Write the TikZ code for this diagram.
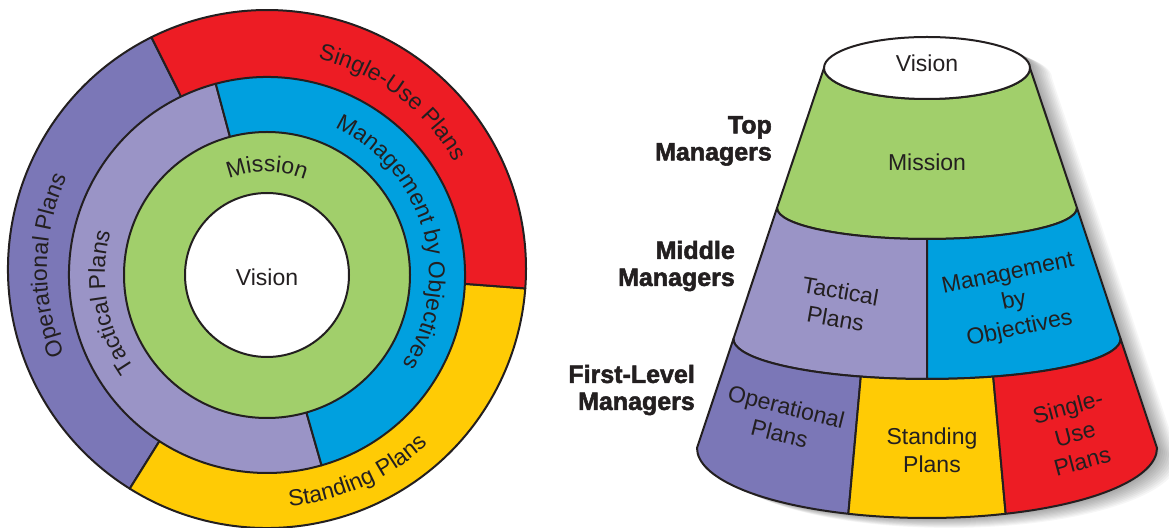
\documentclass[tikz,border=0pt]{standalone}
\usepackage{fontspec}
\setmainfont{Liberation Sans}
\newfontfamily\heavyfont[FakeBold=2]{Liberation Sans Bold}
\usepackage{tikz}
\usetikzlibrary{calc,decorations.text}

\definecolor{ink}{HTML}{231F20}
\definecolor{operc}{HTML}{7B77B7}
\definecolor{tactc}{HTML}{9A94C6}
\definecolor{missc}{HTML}{A1CF6B}
\definecolor{mboc}{HTML}{00A0DF}
\definecolor{standc}{HTML}{FFCB05}
\definecolor{singlec}{HTML}{ED1C24}

\newcommand\ringfont{\fontsize{23}{28}\selectfont}
\newcommand\levelfont{\fontsize{25}{27}\selectfont\heavyfont}

\tikzset{
	part/.style={draw=ink, line width=2pt, line join=round},
	softshadow/.style={fill=black, opacity=0.035},
	ringtext/.style={decorate, decoration={text along path, text align=center, text color=ink, text={|\ringfont|#1}}},
	conetext/.style={font=\ringfont, text=ink, align=center, inner sep=0pt},
	level/.style={font=\levelfont, text=ink, align=right, anchor=east, inner sep=0pt},
}

\begin{document}
\begin{tikzpicture}[x=1pt,y=1pt]
	\useasboundingbox (0,0) rectangle (1169,527);
	\fill[white] (0,0) rectangle (1169,527);
	
	% rings
	\coordinate (o1) at (267,258);
	\coordinate (o2) at (267,252);
	\foreach \d in {2,4,...,20}
		\fill[softshadow, xshift=\d*1pt, yshift=-\d*0.4pt] (o1) circle[radius=259pt];
	
	\filldraw[part, fill=operc] (o1) -- +(116.5:259pt) arc[start angle=116.5, end angle=238, radius=259pt] -- cycle;
	\filldraw[part, fill=standc] (o1) -- +(238:259pt) arc[start angle=238, end angle=355.7, radius=259pt] -- cycle;
	\filldraw[part, fill=singlec] (o1) -- +(-4.3:259pt) arc[start angle=-4.3, end angle=116.5, radius=259pt] -- cycle;
	
	\filldraw[part, fill=tactc] (o2) -- +(105:198pt) arc[start angle=105, end angle=286, radius=198pt] -- cycle;
	\filldraw[part, fill=mboc] (o2) -- +(-74:198pt) arc[start angle=-74, end angle=105, radius=198pt] -- cycle;
	
	\filldraw[part, fill=missc] (o2) circle[radius=143pt];
	\filldraw[part, fill=white] (o2) circle[radius=82pt];
	
	\node[conetext] (vis) at (267,250) {Vision};
	\path[ringtext={Mission}] ($(o2)+(165:103pt)$) arc[start angle=165, end angle=15, radius=103pt];
	\path[ringtext={Management by Objectives}] ($(o2)+(91:162pt)$) arc[start angle=91, end angle=-59, radius=162pt];
	\path[ringtext={Tactical Plans}] ($(o2)+(250:162pt)$) arc[start angle=250, end angle=130, radius=162pt];
	\path[ringtext={Single-Use Plans}] ($(o1)+(113:216pt)$) arc[start angle=113, end angle=-7, radius=216pt];
	\path[ringtext={Operational Plans}] ($(o1)+(239:220pt)$) arc[start angle=239, end angle=119, radius=220pt];
	\path[ringtext={Standing Plans}] ($(o1)+(-126:238pt)$) arc[start angle=-126, end angle=-6, radius=238pt];
	
	% cone
	\coordinate (lid) at (927,459);
	\coordinate (b1) at (927,319);
	\coordinate (b2) at (927,188);
	\coordinate (b3) at (927,79);
	\foreach \d in {2,4,...,22}
		\fill[softshadow, xshift=\d*1pt, yshift=-\d*0.45pt] (824,459) -- (697,79) arc[start angle=180, end angle=360, x radius=230pt, y radius=70pt] -- (1030,459) arc[start angle=0, end angle=180, x radius=103pt, y radius=31pt] -- cycle;
	
	\filldraw[part, fill=missc] (777,319) arc[start angle=180, end angle=360, x radius=150pt, y radius=31pt] -- (1030,459) arc[start angle=0, end angle=-180, x radius=103pt, y radius=31pt] -- cycle;
	\filldraw[part, fill=white] (lid) ellipse[x radius=103pt, y radius=31pt];
	
	\filldraw[part, fill=tactc] (927,288) arc[start angle=270, end angle=180, x radius=150pt, y radius=31pt] -- (733.4,188) arc[start angle=180, end angle=270, x radius=193.6pt, y radius=40pt] -- cycle;
	\filldraw[part, fill=mboc] (927,288) arc[start angle=270, end angle=360, x radius=150pt, y radius=31pt] -- (1120.6,188) arc[start angle=360, end angle=270, x radius=193.6pt, y radius=40pt] -- cycle;
	
	\filldraw[part, fill=operc] ($(b2)+(250:193.6pt and 40pt)$) arc[start angle=250, end angle=180, x radius=193.6pt, y radius=40pt] -- (697,79) arc[start angle=180, end angle=250, x radius=230pt, y radius=70pt] -- cycle;
	\filldraw[part, fill=standc] ($(b2)+(250:193.6pt and 40pt)$) arc[start angle=250, end angle=290, x radius=193.6pt, y radius=40pt] -- ($(b3)+(290:230pt and 70pt)$) arc[start angle=290, end angle=250, x radius=230pt, y radius=70pt] -- cycle;
	\filldraw[part, fill=singlec] ($(b2)+(290:193.6pt and 40pt)$) arc[start angle=290, end angle=360, x radius=193.6pt, y radius=40pt] -- (1157,79) arc[start angle=360, end angle=290, x radius=230pt, y radius=70pt] -- cycle;
	
	\node[conetext] (cvis) at (927,464) {Vision};
	\node[conetext] (cmiss) at (927,365) {Mission};
	\node[conetext, rotate=-10] (ctact) at (838,222) {Tactical\\Plans};
	\node[conetext, rotate=12] (cmbo) at (1014,225) {Management\\by\\Objectives};
	\node[conetext, rotate=-14] (coper) at (783,107) {Operational\\Plans};
	\node[conetext] (cstand) at (932,77) {Standing\\Plans};
	\node[conetext, rotate=15] (csingle) at (1075,93) {Single-\\Use\\Plans};
	
	\node[level] (toplbl) at (772,386) {Top\\Managers};
	\node[level] (midlbl) at (735,261) {Middle\\Managers};
	\node[level] (firstlbl) at (695,137) {First-Level\\Managers};
\end{tikzpicture}
\end{document}
